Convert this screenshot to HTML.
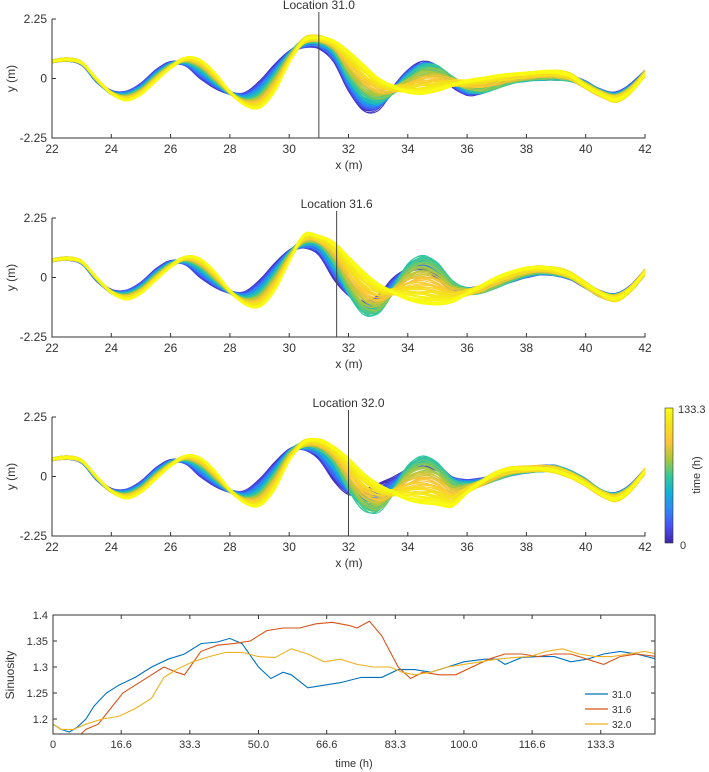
<!DOCTYPE html>
<html><head><meta charset="utf-8">
<style>
html,body{margin:0;padding:0;background:#fff;}
svg{display:block;font-family:"Liberation Sans",sans-serif;}
text{fill:#333;}
</style></head>
<body>
<svg id="chart" width="709" height="772" viewBox="0 0 709 772" xmlns="http://www.w3.org/2000/svg">
<defs>
<linearGradient id="parula" x1="0" y1="1" x2="0" y2="0">
<stop offset="0" stop-color="#3e26a8"/><stop offset="0.125" stop-color="#4852f4"/><stop offset="0.25" stop-color="#2e87f7"/><stop offset="0.375" stop-color="#12b1d6"/><stop offset="0.5" stop-color="#37c897"/><stop offset="0.625" stop-color="#abc739"/><stop offset="0.75" stop-color="#fec338"/><stop offset="0.875" stop-color="#f3e21a"/><stop offset="1" stop-color="#f9fb14"/>
</linearGradient>
</defs>
<g id="panels"></g>
<g id="colorbar">
<rect x="665" y="408" width="8" height="135" fill="url(#parula)" stroke="#333" stroke-width="0.6"/>
<text x="678" y="413" font-size="11">133.3</text>
<text x="680" y="549" font-size="11">0</text>
<text transform="translate(700,475) rotate(-90)" text-anchor="middle" font-size="11">time (h)</text>
</g>
<g id="bottom"></g>
</svg>
<script>
// ---- meander centerline keyframes (y in m), x from 22 to 42 step 0.5 ----
const xKnots = Array.from({length:41},(_,i)=>22+i*0.5);
const left0 = [0.65,0.7,0.55,-0.1,-0.5,-0.5,-0.2,0.3,0.6,0.5,0.0,-0.35,-0.55,-0.55,-0.1,0.5,1.0];
const leftM = [0.65,0.72,0.58,-0.05,-0.55,-0.65,-0.4,0.1,0.5,0.65,0.4,-0.1,-0.55,-0.8,-0.6,0.1,0.9];
const left1 = [0.65,0.72,0.6,0.0,-0.55,-0.82,-0.6,-0.1,0.4,0.78,0.7,0.2,-0.5,-1.0,-1.1,-0.5,0.6];
const p1r0 = [1.25,1.2,0.7,-0.4,-1.15,-1.1,-0.4,0.25,0.55,0.35,-0.25,-0.55,-0.45,-0.2,0.0,0.05,0.05,0.05,0.0,-0.2,-0.5,-0.6,-0.3,0.2];
const p1rM = [1.4,1.45,1.1,0.1,-0.6,-0.8,-0.5,0.0,0.4,0.4,0.0,-0.35,-0.45,-0.3,-0.1,0.0,0.05,0.05,0.0,-0.25,-0.55,-0.7,-0.4,0.2];
const p1r1 = [1.45,1.55,1.4,1.0,0.5,0.0,-0.3,-0.5,-0.55,-0.45,-0.25,-0.1,0.0,0.1,0.15,0.2,0.25,0.25,0.1,-0.3,-0.6,-0.8,-0.5,0.15];
const p2r0 = [1.2,0.9,0.0,-0.6,-0.95,-0.7,-0.1,0.25,0.35,0.0,-0.4,-0.5,-0.4,-0.25,-0.05,0.1,0.2,0.15,0.0,-0.3,-0.6,-0.7,-0.4,0.2];
const p2rM = [1.35,1.3,0.6,-0.5,-1.3,-1.3,-0.5,0.4,0.75,0.5,-0.2,-0.5,-0.5,-0.3,-0.05,0.15,0.25,0.2,0.05,-0.3,-0.65,-0.75,-0.45,0.2];
const p2r1 = [1.6,1.55,1.3,0.75,0.2,-0.25,-0.55,-0.8,-0.95,-1.0,-0.9,-0.6,-0.3,0.0,0.2,0.35,0.38,0.3,0.1,-0.25,-0.6,-0.8,-0.45,0.2];
const p3r0 = [1.1,0.7,-0.1,-0.6,-0.5,-0.3,-0.1,0.2,0.43,0.3,-0.1,-0.2,-0.15,0.0,0.15,0.25,0.3,0.3,0.1,-0.2,-0.6,-0.7,-0.4,0.2];
const p3rM = [1.2,1.1,0.6,-0.4,-1.2,-1.3,-0.6,0.3,0.68,0.45,-0.2,-0.35,-0.25,-0.05,0.15,0.25,0.3,0.3,0.1,-0.2,-0.6,-0.75,-0.45,0.2];
const p3r1 = [1.3,1.38,1.1,0.65,0.1,-0.3,-0.6,-0.85,-0.98,-1.05,-1.1,-0.6,-0.2,0.15,0.3,0.3,0.3,0.2,0.0,-0.3,-0.65,-0.85,-0.5,0.2];
const locations = [31.0, 31.6, 32.0];
const xTicks = [22,24,26,28,30,32,34,36,38,40,42];
const yTickLabels = ["2.25","0","-2.25"];
const yTickVals = [2.25,0,-2.25];

// ---- sinuosity series ----
const tBlue = [0,2,4,6,8,10,13,16,20,24,28,32,36,40,43,46,50,53,56,58,62,66,70,75,80,84,88,92,96,100,105,108,110,114,118,122,126,130,134,138,142,147];
const sBlue = [1.19,1.18,1.175,1.185,1.2,1.225,1.25,1.265,1.28,1.3,1.315,1.325,1.345,1.348,1.355,1.345,1.3,1.278,1.29,1.285,1.26,1.265,1.27,1.28,1.28,1.295,1.295,1.29,1.3,1.31,1.315,1.315,1.305,1.318,1.32,1.32,1.31,1.315,1.325,1.33,1.325,1.315];
const tRed = [0,4,6,8,11,14,17,20,24,27,30,32,36,40,44,48,52,56,60,64,68,72,74,77,80,84,87,90,94,98,102,106,110,114,118,122,126,130,134,138,142,147];
const sRed = [1.17,1.17,1.165,1.18,1.19,1.22,1.25,1.265,1.285,1.3,1.29,1.285,1.33,1.342,1.345,1.35,1.37,1.375,1.375,1.383,1.386,1.38,1.375,1.388,1.36,1.3,1.278,1.29,1.285,1.285,1.3,1.315,1.325,1.325,1.32,1.325,1.325,1.315,1.305,1.32,1.325,1.32];
const tYel = [0,2,5,8,12,16,20,24,27,30,34,38,42,46,50,54,58,62,66,70,74,78,82,85,88,92,96,100,104,108,112,116,120,124,128,132,136,140,144,147];
const sYel = [1.19,1.18,1.18,1.19,1.2,1.205,1.22,1.24,1.28,1.295,1.31,1.32,1.328,1.328,1.32,1.318,1.335,1.325,1.31,1.315,1.305,1.3,1.3,1.29,1.285,1.29,1.3,1.305,1.31,1.315,1.318,1.32,1.33,1.335,1.325,1.32,1.32,1.325,1.33,1.325];
const seriesNames = ["31.0","31.6","32.0"];
const timeTicks = [0,16.6,33.3,50.0,66.6,83.3,100.0,116.6,133.3];
const sinTicks = [1.2,1.25,1.3,1.35,1.4];

const NS="http://www.w3.org/2000/svg";
function mk(tag,attrs,parent){const e=document.createElementNS(NS,tag);for(const k in attrs)e.setAttribute(k,attrs[k]);if(parent)parent.appendChild(e);return e;}
const parulaStops=["#3e26a8","#4852f4","#2e87f7","#12b1d6","#37c897","#abc739","#fec338","#f3e21a","#f9fb14"];
function hex(c){return [1,3,5].map(i=>parseInt(c.substr(i,2),16));}
function parula(t){const n=parulaStops.length-1;const f=Math.min(Math.max(t,0),1)*n;const i=Math.min(Math.floor(f),n-1);const u=f-i;const a=hex(parulaStops[i]),b=hex(parulaStops[i+1]);return "rgb("+a.map((v,k)=>Math.round(v+(b[k]-v)*u)).join(",")+")";}
function smoothPath(pts){let d="M"+pts[0][0].toFixed(1)+","+pts[0][1].toFixed(1);for(let i=0;i<pts.length-1;i++){const p0=pts[Math.max(i-1,0)],p1=pts[i],p2=pts[i+1],p3=pts[Math.min(i+2,pts.length-1)];const c1=[p1[0]+(p2[0]-p0[0])/6,p1[1]+(p2[1]-p0[1])/6];const c2=[p2[0]-(p3[0]-p1[0])/6,p2[1]-(p3[1]-p1[1])/6];d+="C"+c1.map(v=>v.toFixed(1)).join(",")+" "+c2.map(v=>v.toFixed(1)).join(",")+" "+p2[0].toFixed(1)+","+p2[1].toFixed(1);}return d;}

const panelsG=document.getElementById('panels');
const keys=[[left0.concat(p1r0),leftM.concat(p1rM),left1.concat(p1r1)],[left0.concat(p2r0),leftM.concat(p2rM),left1.concat(p2r1)],[left0.concat(p3r0),leftM.concat(p3rM),left1.concat(p3r1)]];
const PL=52,PR=645,XMIN=22,XMAX=42;
function xs(x){return PL+(x-XMIN)/(XMAX-XMIN)*(PR-PL);}
keys.forEach((kf,pi)=>{
  const top=19+pi*199,bot=top+119,mid=(top+bot)/2;
  const ys=y=>mid-y/2.25*(bot-top)/2;
  const g=mk('g',{},panelsG);
  
  
  const cp=mk('clipPath',{id:'clip'+pi},g);mk('rect',{x:PL,y:top-12,width:PR-PL,height:bot-top+12},cp);
  const lines=mk('g',{'clip-path':'url(#clip'+pi+')'},g);
  const N=120;
  for(let i=0;i<N;i++){
    const tt=i/(N-1)*1.1;
    const t=Math.min(tt,1);
    let a,b,u;
    if(t<0.5){a=kf[0];b=kf[1];u=t/0.5;}else{a=kf[1];b=kf[2];u=(t-0.5)/0.5;}
    const wob=0.08*Math.sin(i*2.3)*(t<0.9?1:0.4);
    const pts=xKnots.map((x,k)=>[xs(x),ys(a[k]+(b[k]-a[k])*u+wob*Math.sin(x*1.7+i)*(x>30?1.6:0.8))]);
    const p=mk('path',{d:smoothPath(pts),fill:'none',stroke:parula(t),'stroke-width':t>0.85?1.4:1.0},lines);
    
    
  }
  const ax=mk('path',{d:`M${PL},${top}H${PL+4}M${PL},${top}V${bot}H${PR}V${bot-4}`,fill:'none',stroke:'#333','stroke-width':1},g);
  
  
  xTicks.forEach(v=>{
    mk('line',{x1:xs(v),x2:xs(v),y1:bot,y2:bot-4,stroke:'#333'},g);
    const tx=mk('text',{x:xs(v),y:bot+15,'text-anchor':'middle','font-size':12},g);tx.textContent=v;
    
    
  });
  yTickVals.forEach((v,k)=>{
    mk('line',{x1:PL,x2:PL+4,y1:ys(v),y2:ys(v),stroke:'#333'},g);
    const tx=mk('text',{x:PL-5,y:ys(v)+4,'text-anchor':'end','font-size':12},g);tx.textContent=yTickLabels[k];
    
    
  });
  const xl=mk('text',{x:349,y:bot+31,'text-anchor':'middle','font-size':12},g);xl.textContent='x (m)';
  
  
  const yl=mk('text',{transform:`translate(15,${mid}) rotate(-90)`,'text-anchor':'middle','font-size':12},g);yl.textContent='y (m)';
  
  
  const lx=xs(locations[pi]);
  const ll=mk('line',{x1:lx,x2:lx,y1:top-7,y2:bot,stroke:'#444','stroke-width':1},g);
  
  
  const lt=mk('text',{x:lx,y:top-10,'text-anchor':'middle','font-size':12},g);lt.textContent='Location '+locations[pi].toFixed(1);
  
  
});

// ---- bottom sinuosity chart ----
const B=document.getElementById('bottom');


const BL=53,BR=655,BT=615,BB=734,TMAX=146.5,SMIN=1.1712,SMAX=1.4;
const tx=t=>BL+t/TMAX*(BR-BL), sy=s=>BB-(s-SMIN)/(SMAX-SMIN)*(BB-BT);
const cpB=mk('clipPath',{id:'clipB'},B);mk('rect',{x:BL,y:BT,width:BR-BL,height:BB-BT},cpB);
const colors=["#0072bd","#d95319","#edb120"];
[[tBlue,sBlue],[tRed,sRed],[tYel,sYel]].forEach((ser,k)=>{
  const d=ser[0].map((t,i)=>(i?"L":"M")+tx(t).toFixed(1)+","+sy(ser[1][i]).toFixed(1)).join("");
  const p=mk('path',{d:d,fill:'none',stroke:colors[k],'stroke-width':1.1,'clip-path':'url(#clipB)'},B);
  
  
  const ly=694+k*15;
  const l=mk('line',{x1:585,x2:608,y1:ly,y2:ly,stroke:colors[k],'stroke-width':1.2},B);
  
  
  const t=mk('text',{x:612,y:ly+4,'font-size':10},B);t.textContent=seriesNames[k];
  
  
});
const box=mk('rect',{x:BL,y:BT,width:BR-BL,height:BB-BT,fill:'none',stroke:'#333','stroke-width':1},B);


timeTicks.forEach(v=>{
  mk('line',{x1:tx(v),x2:tx(v),y1:BB,y2:BB-4,stroke:'#333'},B);
  mk('line',{x1:tx(v),x2:tx(v),y1:BT,y2:BT+4,stroke:'#333'},B);
  const t=mk('text',{x:tx(v),y:BB+14,'text-anchor':'middle','font-size':11},B);t.textContent=v===0?"0":v.toFixed(1);
  
  
});
sinTicks.forEach(v=>{
  mk('line',{x1:BL,x2:BL+4,y1:sy(v),y2:sy(v),stroke:'#333'},B);
  mk('line',{x1:BR,x2:BR-4,y1:sy(v),y2:sy(v),stroke:'#333'},B);
  const t=mk('text',{x:BL-5,y:sy(v)+4,'text-anchor':'end','font-size':11},B);t.textContent=String(v);
  
  
});
const xt=mk('text',{x:354,y:767,'text-anchor':'middle','font-size':11},B);xt.textContent='time (h)';


const yt=mk('text',{transform:'translate(14,675) rotate(-90)','text-anchor':'middle','font-size':12},B);yt.textContent='Sinuosity';


</script>
</body></html>
